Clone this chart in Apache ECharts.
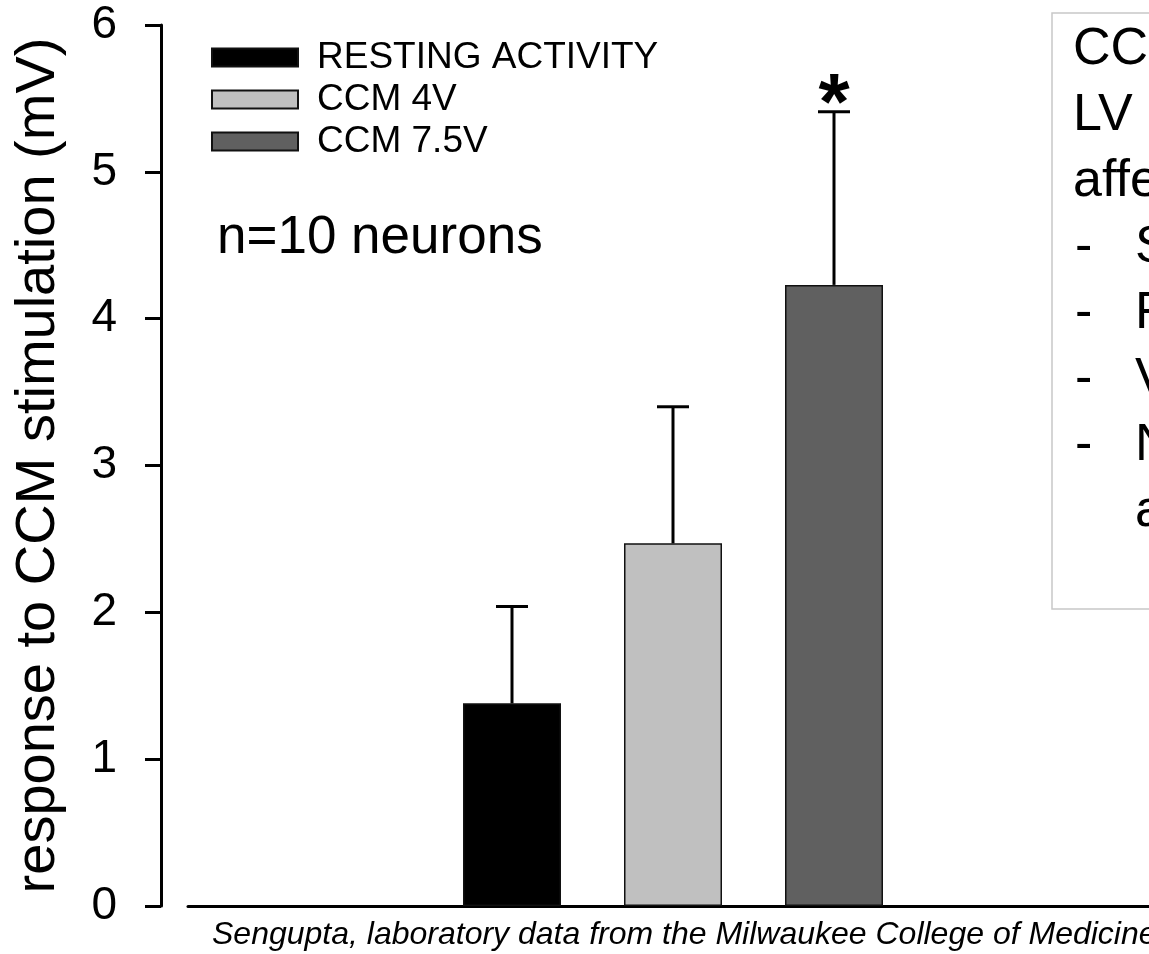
<!DOCTYPE html>
<html>
<head>
<meta charset="utf-8">
<script src="https://cdn.jsdelivr.net/npm/echarts@6/dist/echarts.min.js"></script>
<style>
  html, body { margin: 0; padding: 0; background: #ffffff; }
  #chart { width: 1149px; height: 954px; }
</style>
</head>
<body>
<div id="chart"></div>
<script>
// Groups, mean response and error (upper SE) in mV
var groups = ['RESTING ACTIVITY', 'CCM 4V', 'CCM 7.5V'];
var means = [1.38, 2.47, 4.23];
var errors = [0.66, 0.93, 1.18];
var significance = ['', '', '*'];
var barColors = ['#000000', '#c0c0c0', '#606060'];

// Y axis ticks
var yTicks = [0, 1, 2, 3, 4, 5, 6];

// Side note lines (dash = bullet line)
var noteLines = [
  { dash: false, text: 'CCM stimulation of' },
  { dash: false, text: 'LV myocardium' },
  { dash: false, text: 'affects neurons:' },
  { dash: true, text: 'Sympathetic' },
  { dash: true, text: 'Fibers' },
  { dash: true, text: 'Vagal' },
  { dash: true, text: 'Neuronal' },
  { dash: false, indent: true, text: 'activity' }
];

var FONT = '"Liberation Sans", Arial, Helvetica, sans-serif';

var chart = echarts.init(document.getElementById('chart'), null, { renderer: 'canvas' });

var barSeries = groups.map(function (name, i) {
  return {
    name: name,
    type: 'bar',
    barWidth: 98,
    barGap: '-100%',
    data: [[i + 1, means[i]]],
    itemStyle: { color: barColors[i], borderColor: '#111111', borderWidth: 1.5 },
    emphasis: { disabled: true },
    z: 2
  };
});

var errorData = groups.map(function (g, i) {
  return [i + 1, means[i], errors[i], i];
});

var errorSeries = {
  type: 'custom',
  name: 'error',
  z: 3,
  data: errorData,
  renderItem: function (params, api) {
    var x = api.value(0);
    var m = api.value(1);
    var e = api.value(2);
    var idx = api.value(3);
    var p0 = api.coord([x, m]);
    var p1 = api.coord([x, m + e]);
    var children = [
      { type: 'line', shape: { x1: p0[0], y1: p0[1], x2: p1[0], y2: p1[1] },
        style: { stroke: '#000', lineWidth: 3 } },
      { type: 'line', shape: { x1: p1[0] - 16, y1: p1[1], x2: p1[0] + 16, y2: p1[1] },
        style: { stroke: '#000', lineWidth: 3 } }
    ];
    if (significance[idx]) {
      children.push({
        type: 'text',
        x: p1[0], y: p1[1] - 5,
        style: {
          text: significance[idx], fill: '#000',
          font: 'bold 80px ' + FONT,
          align: 'center', verticalAlign: 'middle'
        }
      });
    }
    return { type: 'group', children: children };
  }
};

var graphics = [
  {
    type: 'text', left: 217, top: 212,
    style: { text: 'n=10 neurons', fill: '#000', font: '53px ' + FONT }
  },
  {
    type: 'text', left: 212, top: 919,
    style: { text: 'Sengupta, laboratory data from the Milwaukee College of Medicine',
      fill: '#000', font: 'italic 32px ' + FONT }
  },
  {
    type: 'rect',
    shape: { x: 1052, y: 13, width: 300, height: 596 },
    style: { fill: '#ffffff', stroke: '#c8c8c8', lineWidth: 1.5 },
    z: 0
  }
];

noteLines.forEach(function (ln, i) {
  var cy = 50 + i * 66;
  if (ln.dash) {
    graphics.push({
      type: 'text', x: 1075, y: cy,
      style: { text: '-', fill: '#000', font: '52px ' + FONT, verticalAlign: 'middle' },
      z: 1
    });
  }
  graphics.push({
    type: 'text', x: (ln.dash || ln.indent) ? 1135 : 1073, y: cy,
    style: { text: ln.text, fill: '#000', font: '52px ' + FONT, verticalAlign: 'middle' },
    z: 1
  });
});

var option = {
  backgroundColor: '#ffffff',
  animation: false,
  grid: { left: 188, right: 0, top: 25, bottom: 48, containLabel: false },
  legend: {
    orient: 'vertical',
    left: 211, top: 39,
    padding: 0,
    itemWidth: 86, itemHeight: 18, itemGap: 5,
    icon: 'rect',
    selectedMode: false,
    data: groups,
    textStyle: { fontFamily: FONT, fontSize: 37, color: '#000', lineHeight: 37, padding: [0, 0, 0, 14] }
  },
  xAxis: {
    type: 'value',
    min: -1.0124, max: 4.9565,
    axisLine: { show: true, onZero: false, lineStyle: { color: '#000', width: 3 } },
    axisTick: { show: false },
    axisLabel: { show: false },
    splitLine: { show: false }
  },
  yAxis: {
    type: 'value',
    min: yTicks[0], max: yTicks[yTicks.length - 1], interval: 1,
    offset: 27,
    name: 'response to CCM stimulation (mV)',
    nameLocation: 'middle',
    nameRotate: 90,
    nameGap: 94,
    nameTextStyle: { fontFamily: FONT, fontSize: 56, color: '#000' },
    axisLine: { show: true, onZero: false, lineStyle: { color: '#000', width: 3 } },
    axisTick: { show: true, inside: false, length: 16, lineStyle: { color: '#000', width: 3 } },
    axisLabel: { fontFamily: FONT, fontSize: 46, color: '#000', margin: 44 },
    splitLine: { show: false }
  },
  graphic: graphics,
  series: barSeries.concat([errorSeries])
};

chart.setOption(option);
</script>
</body>
</html>
